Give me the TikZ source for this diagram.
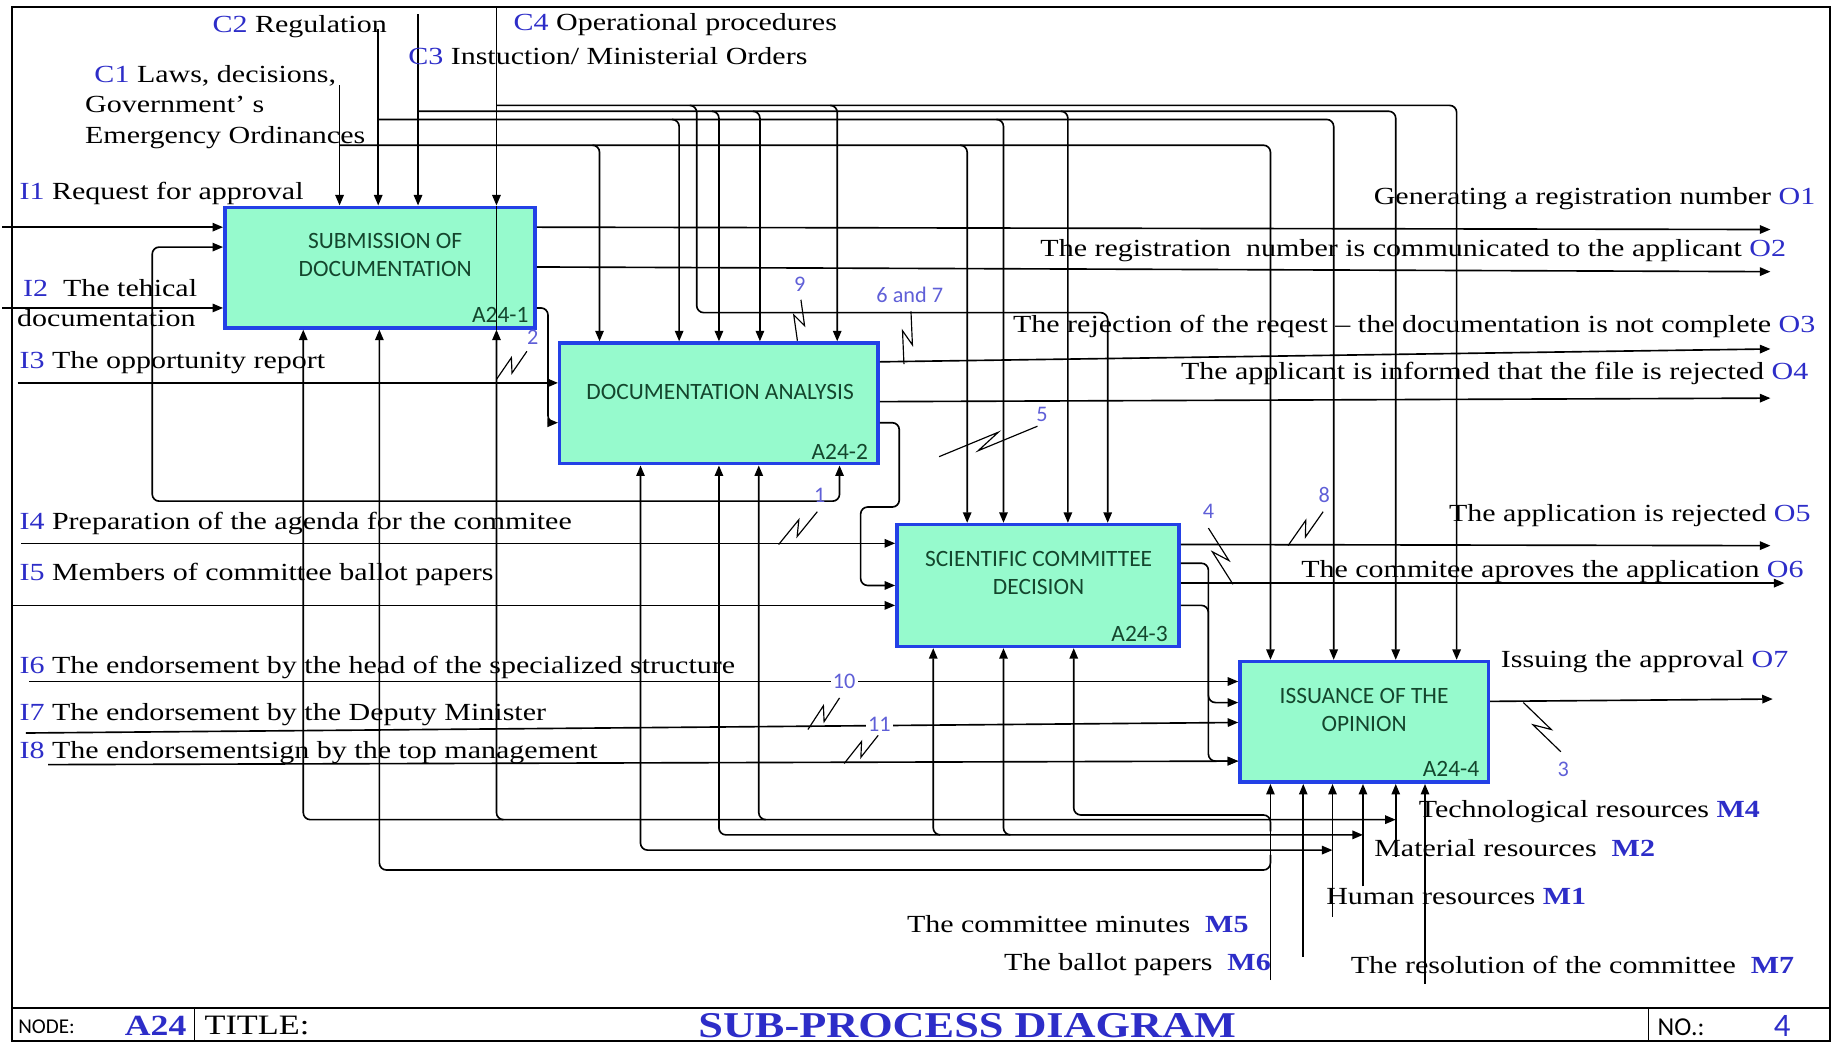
\documentclass[tikz,border=0pt]{standalone}
\usepackage{fontspec}
\setmainfont{Liberation Serif}[FakeStretch=1.22]
\newfontfamily\boxfont{Carlito}
\usetikzlibrary{arrows.meta,calc}
\definecolor{idblue}{RGB}{45,45,200}
\definecolor{numblue}{RGB}{95,95,215}
\definecolor{boxfill}{RGB}{150,250,205}
\definecolor{boxline}{RGB}{35,65,230}
\definecolor{boxtext}{RGB}{20,70,45}
\newcommand{\idn}[1]{{\color{idblue}#1}}
\newcommand{\idb}[1]{{\color{idblue}\bfseries#1}}
\newcommand{\squig}[2]{\draw[sq] (#1) -- ($(#1)!0.62!(#2)!2.5pt!90:(#2)$) -- ($(#1)!0.38!(#2)!2.5pt!-90:(#2)$) -- (#2);}

\begin{document}
\begin{tikzpicture}[x=0.5pt,y=-0.5pt,>={Triangle[length=4.5pt,width=3.6pt]},line width=0.7pt,font=\fontsize{10.5}{13}\selectfont]
\tikzstyle{fn}=[draw=boxline,line width=1.5pt,fill=boxfill,inner sep=0pt]
\tikzstyle{fnt}=[font=\boxfont\fontsize{10}{12}\selectfont,text=boxtext,align=center,inner sep=1pt]
\tikzstyle{num}=[font=\boxfont\fontsize{9.5}{11}\selectfont,text=numblue,inner sep=1pt]
\tikzstyle{lab}=[inner sep=1pt]
\tikzstyle{conn}=[rounded corners=3pt]
\tikzstyle{sq}=[line width=0.5pt]
\useasboundingbox (0,0) rectangle (1568,891);
% frame and title bar
\draw[line width=0.8pt] (10,6) rectangle (1563,889);
\draw[line width=0.8pt] (10,861) -- (1563,861);
\draw (166,861) -- (166,889);
\draw (1408,861) -- (1408,889);
\node[lab,font=\boxfont\fontsize{9}{10}\selectfont,anchor=west] (nodelab) at (13,877) {NODE:};
\node[lab,font=\bfseries\fontsize{12.5}{14}\selectfont,text=idblue,anchor=west] (nodeid) at (104,876) {A24};
\node[lab,font=\fontsize{12}{14}\selectfont,anchor=west] (titlelab) at (172,876) {TITLE:};
\node[lab,font=\bfseries\fontsize{15.5}{17}\selectfont,text=idblue] (title) at (826,876) {SUB-PROCESS DIAGRAM};
\node[lab,font=\boxfont\fontsize{11}{12}\selectfont,anchor=west] (nolab) at (1413,877) {NO.:};
\node[lab,font=\boxfont\fontsize{14}{15}\selectfont,text=idblue] (no) at (1522,876) {4};
% activity boxes
\node[fn,minimum width=132.5pt,minimum height=51.5pt] (b1) at (324.5,228.5) {};
\node[fn,minimum width=136pt,minimum height=51.5pt] (b2) at (614,344.5) {};
\node[fn,minimum width=120.5pt,minimum height=52pt] (b3) at (886.5,500) {};
\node[fn,minimum width=106pt,minimum height=51.5pt] (b4) at (1165,616.5) {};
% free ends
\coordinate (c1) at (290,73);
\coordinate (c2) at (323,25);
\coordinate (c3) at (357,12);
\coordinate (c4) at (424,6);
\coordinate (i1) at (2,194);
\coordinate (i2) at (2,263);
\coordinate (i3) at (15,327);
\coordinate (i4) at (18,464);
\coordinate (i5) at (10,517);
\coordinate (i6) at (25,582);
\coordinate (i7) at (22,626);
\coordinate (i8) at (41,653);
\coordinate (o1) at (1512,196);
\coordinate (o2) at (1512,232);
\coordinate (o3) at (1512,298);
\coordinate (o4) at (1512,340);
\coordinate (o5) at (1512,466);
\coordinate (o6) at (1524,498);
\coordinate (o7) at (1514,597);
\coordinate (m6) at (1085,837);
\coordinate (m5) at (1113,817);
\coordinate (m1) at (1138,783);
\coordinate (m2) at (1164,757);
\coordinate (m4) at (1192,732);
\coordinate (m7) at (1217,840);
% controls
\draw[->] (c1) -- (b1.north -| c1);
\draw[->] (c2) -- (b1.north -| c2);
\draw[->] (c3) -- (b1.north -| c3);
\draw[->] (c4) -- (b1.north -| c4);
\draw (b1.north -| c4) -- (b1.south -| c4);
\draw[conn,->] (c1 |- 0,124) -- (1085,124) -- (b4.north -| 1085,0);
\draw[conn,->] (506,124) -- (512,124) -- (b2.north -| 512,0);
\draw[conn,->] (820,124) -- (826,124) -- (b3.north -| 826,0);
\draw[conn,->] (c2 |- 0,102) -- (1139,102) -- (b4.north -| 1139,0);
\draw[conn,->] (574,102) -- (580,102) -- (b2.north -| 580,0);
\draw[conn,->] (851,102) -- (857,102) -- (b3.north -| 857,0);
\draw[conn,->] (c3 |- 0,95) -- (1192,95) -- (b4.north -| 1192,0);
\draw[conn,->] (608,95) -- (614,95) -- (b2.north -| 614,0);
\draw[conn,->] (643,95) -- (649,95) -- (b2.north -| 649,0);
\draw[conn,->] (906,95) -- (912,95) -- (b3.north -| 912,0);
\draw[conn,->] (c4 |- 0,90) -- (1244,90) -- (b4.north -| 1244,0);
\draw[conn,->] (709,90) -- (715,90) -- (b2.north -| 715,0);
\draw[conn,->] (589,90) -- (595,90) -- (595,267) -- (946,267) -- (b3.north -| 946,0);
% outputs
\draw[->] (b1.east |- 0,194) -- (o1);
\draw[->] (b1.east |- 0,228) -- (o2);
\draw[conn,->] (b1.east |- 0,263) -- (468,263) -- (468,361) -- (b2.west |- 0,361);
\draw[->] (b2.east |- 0,309) -- (o3);
\draw[->] (b2.east |- 0,343) -- (o4);
\draw[conn,->] (b2.east |- 0,361) -- (768,361) -- (768,433) -- (735,433) -- (735,500) -- (b3.west |- 0,500);
\draw[->] (b3.east |- 0,465) -- (o5);
\draw[conn,->] (b3.east |- 0,481) -- (1032,481) -- (1032,600) -- (b4.west |- 0,600);
\draw[->] (b3.east |- 0,498) -- (o6);
\draw[conn,->] (b3.east |- 0,517) -- (1032,517) -- (1032,650) -- (b4.west |- 0,650);
\draw[->] (b4.east |- 0,599) -- (o7);
% inputs
\draw[->] (i1) -- (b1.west |- i1);
\draw[->] (i2) -- (b1.west |- i2);
\draw[conn,<->] (b1.west |- 0,211) -- (130,211) -- (130,428) -- (717,428) -- (b2.south -| 717,0);
\draw[->] (i3) -- (b2.west |- i3);
\draw[->] (i4) -- (b3.west |- i4);
\draw[->] (i5) -- (b3.west |- i5);
\draw[->] (i6) -- (b4.west |- i6);
\draw[->] (i7) -- (b4.west |- 0,617);
\draw[->] (i8) -- (b4.west |- 0,650);
% mechanisms
\draw[->] (m6) -- (b4.south -| m6);
\draw[->] (m5) -- (b4.south -| m5);
\draw[->] (m1) -- (b4.south -| m1);
\draw[->] (m2) -- (b4.south -| m2);
\draw[->] (m4) -- (b4.south -| m4);
\draw[->] (m7) -- (b4.south -| m7);
\draw[conn,->] (1085,710) -- (1085,696) -- (917,696) -- (b3.south -| 917,0);
\draw[conn,->] (1085,730) -- (1085,743) -- (324,743) -- (b1.south -| 324,0);
\draw[conn,<->] (b2.south -| 547,0) -- (547,726) -- (m1 |- 0,726);
\draw[conn,<->] (b2.south -| 614,0) -- (614,713) -- (m2 |- 0,713);
\draw[conn,->] (803,713) -- (797,713) -- (b3.south -| 797,0);
\draw[conn,->] (863,713) -- (857,713) -- (b3.south -| 857,0);
\draw[conn,<->] (b1.south -| 259,0) -- (259,700) -- (m4 |- 0,700);
\draw[conn,->] (430,700) -- (424,700) -- (b1.south -| 424,0);
\draw[conn,->] (654,700) -- (648,700) -- (b2.south -| 648,0);
% box texts
\node[fnt] (t1) at (329,218) {SUBMISSION OF\\DOCUMENTATION};
\node[fnt,anchor=east] (a1) at (454,269) {A24-1};
\node[fnt] (t2) at (615,335) {DOCUMENTATION ANALYSIS};
\node[fnt,anchor=east] (a2) at (744,386) {A24-2};
\node[fnt] (t3) at (887,489) {SCIENTIFIC COMMITTEE\\DECISION};
\node[fnt,anchor=east] (a3) at (1000,541) {A24-3};
\node[fnt] (t4) at (1165,606) {ISSUANCE OF THE\\OPINION};
\node[fnt,anchor=east] (a4) at (1266,657) {A24-4};
% arrow numbers
\node[num] (n2) at (455,288) {2};
\squig{424,324}{450,300}
\node[num] (n9) at (683,243) {9};
\squig{681,291}{684,256}
\node[num] (n67) at (777,252) {6 and 7};
\squig{772,311}{778,266}
\node[num] (n5) at (890,354) {5};
\squig{802,390}{886,364}
\node[num] (n1) at (700,423) {1};
\squig{665,465}{698,437}
\node[num] (n4) at (1032,437) {4};
\squig{1032,451}{1053,499}
\node[num] (n8) at (1131,423) {8};
\squig{1100,466}{1130,437}
\node[num,fill=white] (n10) at (721,582) {10};
\squig{690,623}{717,596}
\node[num,fill=white] (n11) at (751,619) {11};
\squig{721,652}{750,628}
\node[num] (n3) at (1335,657) {3};
\squig{1301,600}{1333,642}
% control labels
\node[lab,anchor=east] (c2l) at (333,23) {\idn{C2} Regulation};
\node[lab,anchor=west] (c4l) at (436,21) {\idn{C4} Operational procedures};
\node[lab,anchor=west] (c3l) at (346,48) {\idn{C3} Instuction/ Ministerial Orders};
\node[lab,anchor=north west,align=left,inner sep=0pt] (c1l) at (72,55) {\hspace*{4pt}\idn{C1} Laws, decisions,\\Government' s\\Emergency Ordinances};
% input labels
\node[lab,anchor=west] (i1l) at (14,165) {\idn{I1} Request for approval};
\node[lab,anchor=west] (i2l) at (17,246) {\idn{I2}\ \ The tehical};
\node[lab,anchor=west] (i2m) at (12,272) {documentation};
\node[lab,anchor=west] (i3l) at (14,310) {\idn{I3} The opportunity report};
\node[lab,anchor=west] (i4l) at (14,447) {\idn{I4} Preparation of the agenda for the commitee};
\node[lab,anchor=west] (i5l) at (14,491) {\idn{I5} Members of committee ballot papers};
\node[lab,anchor=west] (i6l) at (14,570) {\idn{I6} The endorsement by the head of the specialized structure};
\node[lab,anchor=west] (i7l) at (14,610) {\idn{I7} The endorsement by the Deputy Minister};
\node[lab,anchor=west] (i8l) at (14,643) {\idn{I8} The endorsementsign by the top management};
% output labels
\node[lab,anchor=east] (o1l) at (1553,170) {Generating a registration number \idn{O1}};
\node[lab,anchor=east] (o2l) at (1528,214) {The registration\ \ number is communicated to the applicant \idn{O2}};
\node[lab,anchor=east] (o3l) at (1553,279) {The rejection of the reqest -- the documentation is not complete \idn{O3}};
\node[lab,anchor=east] (o4l) at (1547,319) {The applicant is informed that the file is rejected \idn{O4}};
\node[lab,anchor=east] (o5l) at (1549,440) {The application is rejected \idn{O5}};
\node[lab,anchor=east] (o6l) at (1543,488) {The commitee aproves the application \idn{O6}};
\node[lab,anchor=east] (o7l) at (1530,565) {Issuing the approval \idn{O7}};
% mechanism labels
\node[lab,anchor=west] (m4l) at (1209,693) {Technological resources \idb{M4}};
\node[lab,anchor=west] (m2l) at (1171,724) {Material resources\ \ \idb{M2}};
\node[lab,anchor=west] (m1l) at (1130,766) {Human resources \idb{M1}};
\node[lab,anchor=east] (m5l) at (1069,789) {The committee minutes\ \ \idb{M5}};
\node[lab,anchor=east] (m6l) at (1088,824) {The ballot papers\ \ \idb{M6}};
\node[lab,anchor=west] (m7l) at (1151,824) {The resolution of the committee\ \ \idb{M7}};
\end{tikzpicture}
\end{document}
